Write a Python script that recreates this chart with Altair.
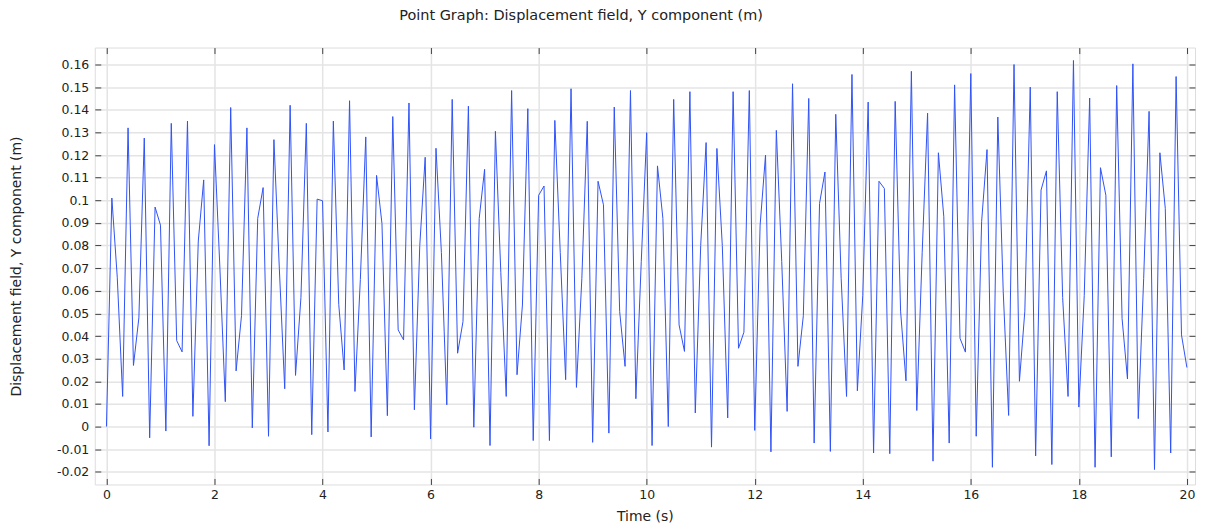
import altair as alt
import pandas as pd

# Time samples (s): regular output times 0.0 .. 20.0, step 0.1
time_s = [round(i * 0.1, 1) for i in range(201)]

# Displacement field, Y component (m)
disp_y = [
    0.0, 0.101, 0.066, 0.0133, 0.132, 0.027, 0.048, 0.1275, -0.005, 0.097,
    0.089, -0.002, 0.134, 0.038, 0.033, 0.135, 0.0045, 0.082, 0.109, -0.0085,
    0.1246, 0.07, 0.011, 0.141, 0.0246, 0.049, 0.132, -0.0006, 0.092, 0.1056,
    -0.0043, 0.1268, 0.07, 0.0167, 0.142, 0.0226, 0.057, 0.134, -0.0036, 0.1005,
    0.0998, -0.0024, 0.135, 0.054, 0.025, 0.144, 0.0155, 0.065, 0.128, -0.0046,
    0.111, 0.0897, 0.0048, 0.137, 0.0427, 0.0383, 0.143, 0.0074, 0.080, 0.119,
    -0.0055, 0.123, 0.077, 0.0096, 0.1446, 0.0324, 0.0464, 0.1416, -0.0003, 0.092,
    0.1137, -0.0084, 0.1305, 0.068, 0.0133, 0.1485, 0.0229, 0.0537, 0.1405, -0.0062,
    0.1022, 0.1063, -0.0062, 0.1353, 0.077, 0.0207, 0.1493, 0.0173, 0.0655, 0.1349,
    -0.007, 0.1084, 0.098, -0.0029, 0.1412, 0.0508, 0.0266, 0.1485, 0.0123, 0.073,
    0.1299, -0.0084, 0.1152, 0.092, 0.0, 0.1446, 0.0449, 0.0332, 0.148, 0.006,
    0.08, 0.1255, -0.0091, 0.1229, 0.08, 0.0038, 0.148, 0.0346, 0.0417, 0.1485,
    -0.0017, 0.089, 0.12, -0.0112, 0.1309, 0.073, 0.0067, 0.1515, 0.0266, 0.049,
    0.145, -0.0073, 0.0986, 0.1125, -0.011, 0.138, 0.0655, 0.0133, 0.1556, 0.0158,
    0.058, 0.1434, -0.0117, 0.1084, 0.1052, -0.012, 0.1437, 0.051, 0.0202, 0.157,
    0.0071, 0.077, 0.1385, -0.0153, 0.121, 0.0927, -0.0073, 0.151, 0.039, 0.0329,
    0.156, -0.0043, 0.0905, 0.1224, -0.018, 0.1368, 0.0597, 0.0049, 0.16, 0.02,
    0.051, 0.15, -0.013, 0.1045, 0.113, -0.0168, 0.148, 0.057, 0.0133, 0.1618,
    0.0086, 0.058, 0.1452, -0.018, 0.1144, 0.1022, -0.0134, 0.1507, 0.0478, 0.021,
    0.1603, 0.0035, 0.0655, 0.1393, -0.019, 0.121, 0.0964, -0.0117, 0.1547, 0.0405,
    0.0261,
]

x_ticks = [0, 2, 4, 6, 8, 10, 12, 14, 16, 18, 20]
y_ticks = [-0.02, -0.01, 0, 0.01, 0.02, 0.03, 0.04, 0.05, 0.06, 0.07, 0.08,
           0.09, 0.1, 0.11, 0.12, 0.13, 0.14, 0.15, 0.16]

title_text = "Point Graph: Displacement field, Y component (m)"
x_title = "Time (s)"
y_title = "Displacement field, Y component (m)"

df = pd.DataFrame({"t": time_s, "u": disp_y})

FONT = "DejaVu Sans"
x_scale = alt.Scale(domain=[-0.216, 20.15], nice=False, zero=False)
y_scale = alt.Scale(domain=[-0.0256, 0.1675], nice=False, zero=False)

common_axis = dict(
    tickSize=6, tickColor="#444", tickWidth=1, domain=False,
    labelFont=FONT, labelFontSize=12.5, labelColor="#222",
    titleFont=FONT, titleFontSize=14, titleFontWeight="normal", titleColor="#222",
    gridColor="#e4e4e4", gridWidth=1.5,
)

line = alt.Chart(df).mark_line(color="#2f52f6", strokeWidth=1, clip=True).encode(
    x=alt.X("t:Q", scale=x_scale,
            axis=alt.Axis(orient="bottom", values=x_ticks, title=x_title, offset=-6,
                          grid=True, labelPadding=4, titlePadding=9,
                          labelFlush=False, labelOverlap=False, **common_axis)),
    y=alt.Y("u:Q", scale=y_scale,
            axis=alt.Axis(orient="left", values=y_ticks, title=y_title, offset=-6,
                          grid=True, labelPadding=6, titlePadding=33,
                          labelFlush=False, labelOverlap=False,
                          labelExpr="toString(round(datum.value*100)/100)",
                          **common_axis)),
)

ticks_tr = alt.Chart(df).mark_line(opacity=0).encode(
    x=alt.X("t:Q", scale=x_scale,
            axis=alt.Axis(orient="top", values=x_ticks, title="", offset=-6,
                          labels=False, grid=False, **common_axis)),
    y=alt.Y("u:Q", scale=y_scale,
            axis=alt.Axis(orient="right", values=y_ticks, title="", offset=-6,
                          labels=False, grid=False, **common_axis)),
)

chart = alt.layer(line, ticks_tr).resolve_axis(
    x="independent", y="independent"
).properties(
    width=1103,
    height=438,
    title=alt.TitleParams(title_text, font=FONT, fontSize=14.5, fontWeight="normal",
                          color="#222", anchor="middle", frame="group", offset=24, dx=-64),
    autosize=alt.AutoSizeParams(type="none"),
    padding={"left": 87, "top": 39, "right": 2, "bottom": 45},
).configure_view(
    stroke="#555", strokeWidth=1
).configure(background="white")

chart.save("out.html", embed_options={"renderer": "svg", "actions": False})
